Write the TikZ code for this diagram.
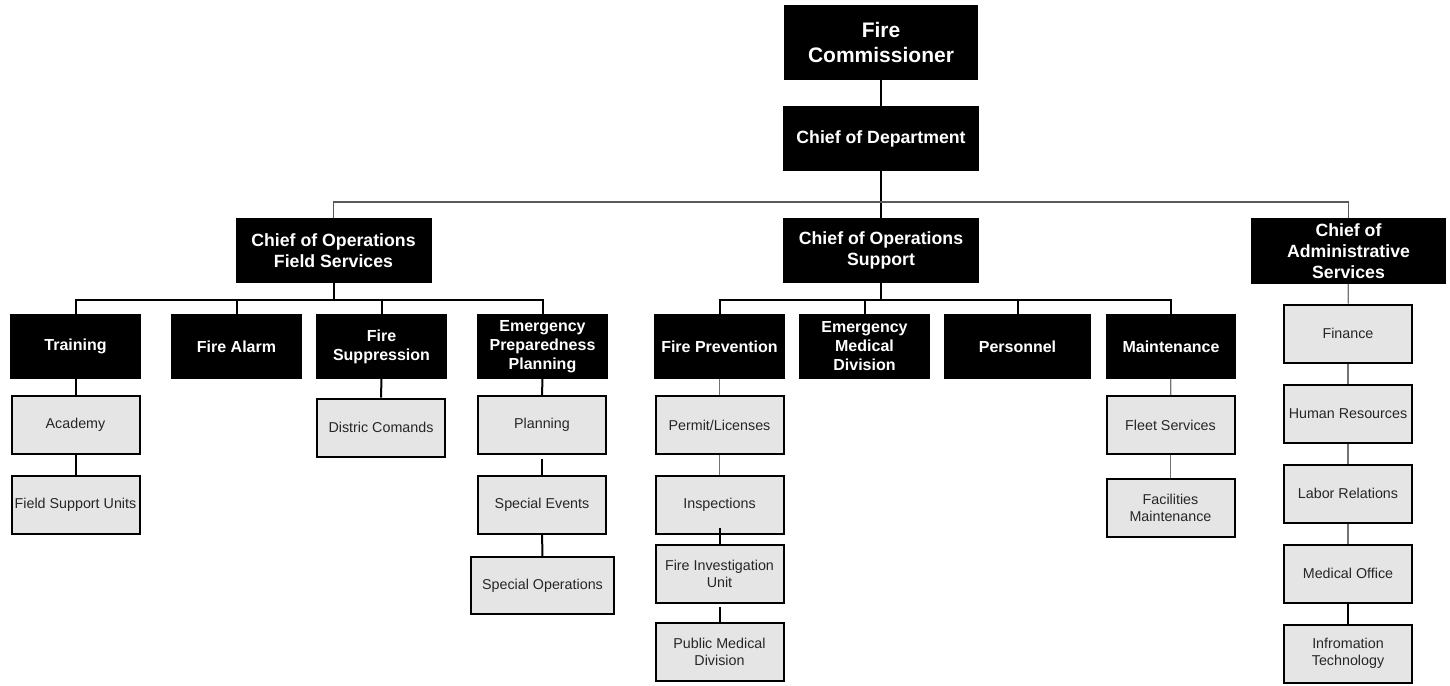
\documentclass[tikz,border=0pt]{standalone}
\usepackage{fontspec}
\setmainfont{Liberation Sans}
\begin{document}
\begin{tikzpicture}[x=1pt,y=-1pt,
  box/.style={fill=black,text=white,inner sep=0pt,align=center,minimum width=131pt,minimum height=65pt,font=\fontsize{16}{19}\selectfont\bfseries},
  chief/.style={box,minimum width=196pt,font=\fontsize{17.7}{21}\selectfont\bfseries},
  unit/.style={draw=black,line width=2pt,fill=black!10,text=black!85,inner sep=0pt,align=center,minimum width=128pt,minimum height=58pt,font=\fontsize{14.3}{17}\selectfont},
  link/.style={line width=2pt},
  thinlink/.style={line width=1.2pt,black!55}]
\useasboundingbox (0,0) rectangle (1450,685);
% top of the chart
\node[chief,minimum width=194pt,minimum height=75pt,font=\fontsize{21}{25}\selectfont\bfseries] (comm) at (881,42.5) {Fire\\Commissioner};
\node[chief] (cod) at (881,138.5) {Chief of Department};
\node[chief] (cofs) at (333.5,250.5) {Chief of Operations\\Field Services};
\node[chief] (coos) at (881,250.5) {Chief of Operations\\Support};
\node[chief,minimum width=195pt,minimum height=66pt] (coas) at (1348.5,251) {Chief of\\Administrative\\Services};
% divisions
\node[box] (train) at (75.5,346.5) {Training};
\node[box] (alarm) at (236.5,346.5) {Fire Alarm};
\node[box] (supp) at (381.5,346.5) {Fire\\Suppression};
\node[box] (epp) at (542.5,346.5) {Emergency\\Preparedness\\Planning};
\node[box] (prev) at (719.5,346.5) {Fire Prevention};
\node[box] (emd) at (864.5,346.5) {Emergency\\Medical\\Division};
\node[box,minimum width=147pt] (pers) at (1017.5,346.5) {Personnel};
\node[box,minimum width=130pt] (maint) at (1171,346.5) {Maintenance};
% units
\node[unit] (acad) at (75.5,425) {Academy};
\node[unit] (fsu) at (75.5,504.5) {Field Support Units};
\node[unit] (dist) at (381,427.5) {Distric Comands};
\node[unit] (plan) at (542,425) {Planning};
\node[unit] (sevt) at (542,505) {Special Events};
\node[unit,minimum width=143pt,minimum height=57pt] (sops) at (542.5,585.5) {Special Operations};
\node[unit] (perm) at (719.5,425) {Permit/Licenses};
\node[unit] (insp) at (719.5,505) {Inspections};
\node[unit] (fiu) at (719.5,574) {Fire Investigation\\Unit};
\node[unit] (pmd) at (719.5,651.5) {Public Medical\\Division};
\node[unit] (fleet) at (1170.5,425) {Fleet Services};
\node[unit] (fac) at (1170.5,507.5) {Facilities\\Maintenance};
\node[unit] (fin) at (1348,333.5) {Finance};
\node[unit] (hr) at (1348,413.5) {Human Resources};
\node[unit] (labor) at (1348,493.5) {Labor Relations};
\node[unit] (med) at (1348,573.5) {Medical Office};
\node[unit] (it) at (1348,653.5) {Infromation\\Technology};
% bars
\coordinate (topbar) at (881,202);
\coordinate (fsbar) at (333.5,300);
\coordinate (osbar) at (881,300);
\draw[link] (comm) -- (cod);
\draw[link] (cod) -- (coos);
\draw[thinlink,black!65,line width=1.3pt] (cofs.north) |- (topbar) -| (coas.north);
\draw[link] (cofs) -- (fsbar);
\draw[link] (train.north) |- (fsbar) -| (epp.north);
\foreach \n in {alarm,supp} \draw[link] (\n) -- (\n |- fsbar);
\draw[link] (coos) -- (osbar);
\draw[link] (prev.north) |- (osbar) -| (maint.north);
\foreach \n in {emd,pers} \draw[link] (\n) -- (\n |- osbar);
% units below
\draw[link] (train) -- (acad);
\draw[link] (acad) -- (fsu);
\draw[link] (supp) -- (dist);
\draw[link] (epp) -- (plan);
\draw[link] ([yshift=-4pt]plan.south) -- (sevt);
\draw[link] (sevt) -- (sops);
\draw[thinlink] (prev) -- (perm);
\draw[thinlink] (perm) -- (insp);
\draw[link] ([yshift=7pt]insp.south) -- (fiu);
\draw[link] ([yshift=-3pt]fiu.south) -- (pmd);
\draw[thinlink] (maint) -- (fleet);
\draw[thinlink] (fleet) -- (fac);
\draw[thinlink] (coas) -- (fin);
\foreach \a/\b in {fin/hr,hr/labor,labor/med} \draw[thinlink] (\a) -- (\b);
\draw[link] (med) -- (it);
\end{tikzpicture}
\end{document}
